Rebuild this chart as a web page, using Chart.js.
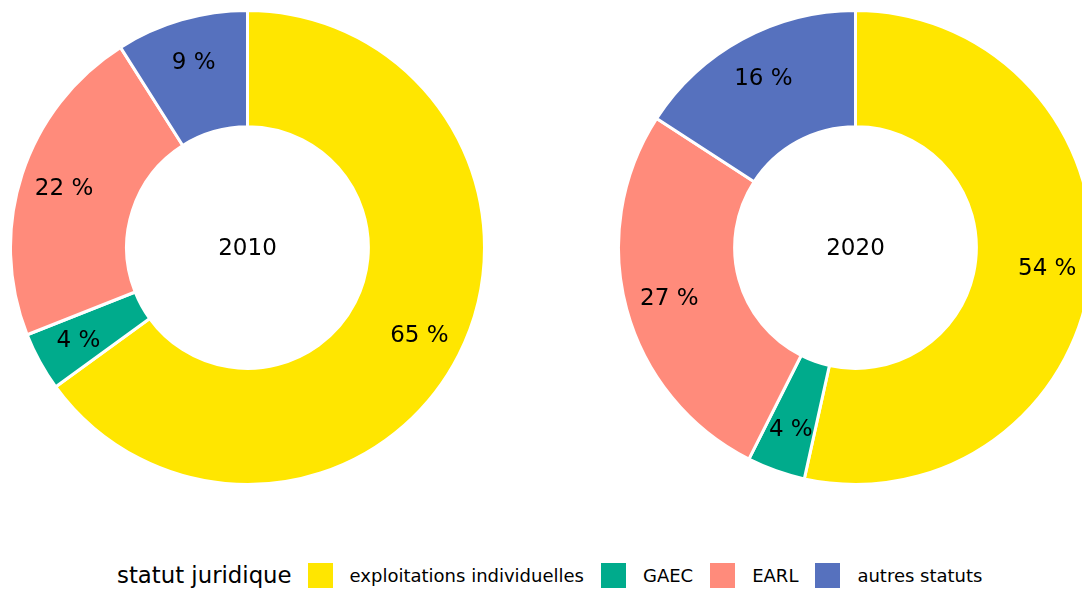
<!DOCTYPE html>
<html>
<head>
<meta charset="utf-8">
<script src="https://cdn.jsdelivr.net/npm/chart.js@4/dist/chart.umd.min.js"></script>
<style>
    html, body { margin: 0; padding: 0; background: #fff; }
    body { width: 1082px; height: 589px; overflow: hidden; position: relative; font-family: "DejaVu Sans", sans-serif; }
    .donut { position: absolute; top: 8.5px; }
    #legend { position: absolute; left: 117px; top: 561px; display: flex; align-items: center; height: 28px; }
    #legend .title { font-size: 22.8px; margin-right: 16px; }
    #legend .box { width: 25px; height: 25px; margin-right: 17px; }
    #legend .lab { font-size: 18px; margin-right: 17px; }
</style>
</head>
<body>
<canvas id="donut2010" class="donut" width="477" height="477" style="left:8.5px"></canvas>
<canvas id="donut2020" class="donut" width="477" height="477" style="left:616.5px"></canvas>
<div id="legend"></div>
<script>
const statuts = ['exploitations individuelles', 'GAEC', 'EARL', 'autres statuts'];
const couleurs = ['#FFE600', '#00AB8C', '#FF8B7B', '#5671BE'];
const annees = ['2010', '2020'];
const parts2010 = [65, 4, 22, 9];
const parts2020 = [54, 4, 27, 16];

// labels "xx %" drawn in the ring + year in the hole
const labelPlugin = {
    id: 'labelPlugin',
    afterDatasetsDraw(chart) {
        const ctx = chart.ctx;
        const meta = chart.getDatasetMeta(0);
        const values = chart.data.datasets[0].data;
        ctx.save();
        ctx.fillStyle = '#000';
        ctx.textAlign = 'center';
        ctx.textBaseline = 'middle';
        ctx.font = '23px "DejaVu Sans"';
        meta.data.forEach((arc, i) => {
            const p = arc.getProps(['x', 'y', 'startAngle', 'endAngle', 'innerRadius', 'outerRadius'], true);
            const a = (p.startAngle + p.endAngle) / 2;
            const r = p.innerRadius + (p.outerRadius - p.innerRadius) * 0.62;
            ctx.fillText(values[i] + ' %', p.x + Math.cos(a) * r, p.y + Math.sin(a) * r + 1);
        });
        const first = meta.data[0];
        ctx.font = '23px "DejaVu Sans"';
        ctx.fillText(chart.options.plugins.centerTitle, first.x, first.y + 2);
        ctx.restore();
    }
};

function createDonut(id, annee, parts) {
    return new Chart(document.getElementById(id).getContext('2d'), {
        type: 'doughnut',
        data: {
            labels: statuts,
            datasets: [{
                data: parts,
                backgroundColor: couleurs,
                borderColor: '#ffffff',
                borderWidth: 3
            }]
        },
        options: {
            responsive: false,
            animation: false,
            cutout: '51%',
            layout: { padding: 0 },
            plugins: {
                legend: { display: false },
                tooltip: { enabled: false },
                centerTitle: annee
            }
        },
        plugins: [labelPlugin]
    });
}

createDonut('donut2010', annees[0], parts2010);
createDonut('donut2020', annees[1], parts2020);

// legend at the bottom
const legend = document.getElementById('legend');
let html = '<span class="title">statut juridique</span>';
statuts.forEach((s, i) => {
    html += `<span class="box" style="background:${couleurs[i]}"></span><span class="lab">${s}</span>`;
});
legend.innerHTML = html;
</script>
</body>
</html>
